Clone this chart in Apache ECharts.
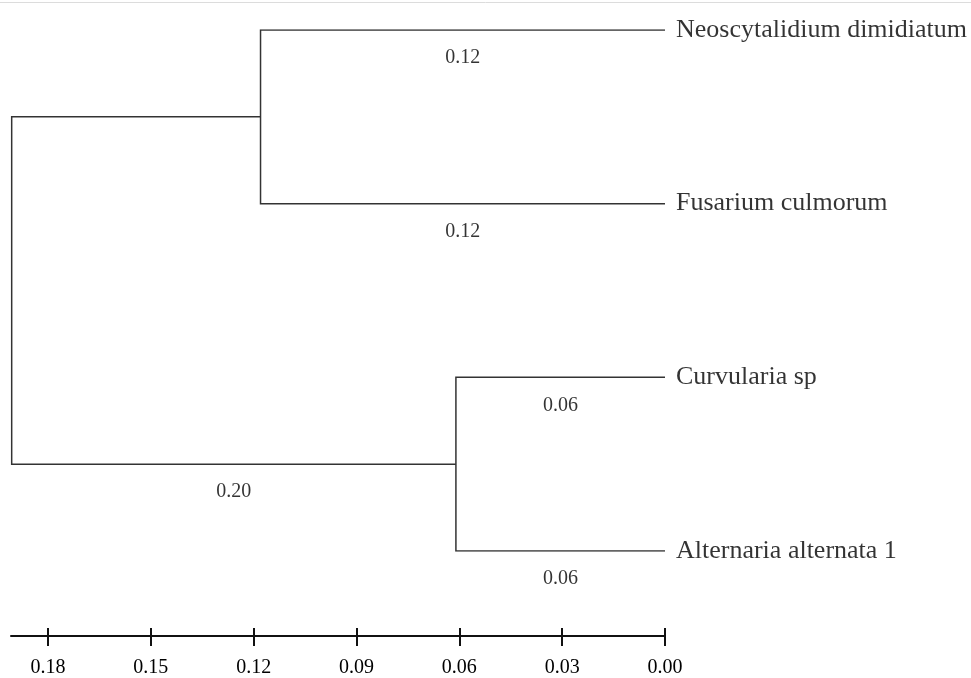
<!DOCTYPE html>
<html>
<head>
<meta charset="utf-8">
<script src="https://cdn.jsdelivr.net/npm/echarts@6/dist/echarts.min.js"></script>
<style>
html,body{margin:0;padding:0;background:#fff;}
#chart{width:971px;height:678px;}
</style>
</head>
<body>
<div id="chart"></div>
<script>
// Leaves (top to bottom) and their rows
const leafNames = ['Neoscytalidium dimidiatum', 'Fusarium culmorum', 'Curvularia sp', 'Alternaria alternata 1'];
const leafRows = [0, 1, 2, 3];
// Merges: [childA, childB, height]; indices >= 4 refer to earlier merges
const mergeLeft = [0, 2, 4];
const mergeRight = [1, 3, 5];
const mergeHeights = [0.118, 0.061, 0.1906];
// Branch length labels: by node index (leaves 0-3, clusters 4-5)
const branchLabelNodes = [0, 1, 2, 3, 5];
const branchLabels = ['0.12', '0.12', '0.06', '0.06', '0.20'];
// Axis ticks
const tickValues = [0, 0.03, 0.06, 0.09, 0.12, 0.15, 0.18];
const axisMax = 0.1908;

// node positions
const nodeX = leafRows.map(() => 0);
const nodeY = leafRows.slice();
const parentOf = {};
mergeHeights.forEach((h, i) => {
  const a = mergeLeft[i], b = mergeRight[i];
  nodeX.push(h);
  nodeY.push((nodeY[a] + nodeY[b]) / 2);
  parentOf[a] = leafNames.length + i;
  parentOf[b] = leafNames.length + i;
});

const paths = mergeHeights.map((h, i) => {
  const a = mergeLeft[i], b = mergeRight[i];
  return {coords: [[nodeX[a], nodeY[a]], [h, nodeY[a]], [h, nodeY[b]], [nodeX[b], nodeY[b]]]};
});

const branchLabelData = branchLabelNodes.map((n, i) => {
  const p = parentOf[n];
  return {value: [(nodeX[n] + nodeX[p]) / 2, nodeY[n]], label: {formatter: branchLabels[i]}};
});

const leafData = leafNames.map((nm, i) => ({value: [0, leafRows[i]], name: nm}));

const fontFam = '"Liberation Serif", "Times New Roman", serif';

const gridBox = {left: 11, right: 306, top: 30, bottom: 125, containLabel: false};

const baseX = {
  type: 'value', inverse: true, min: 0, max: axisMax,
  position: 'bottom', offset: 85,
  splitLine: {show: false}
};

const chart = echarts.init(document.getElementById('chart'), null, {renderer: 'canvas'});
chart.setOption({
  backgroundColor: '#fff',
  animation: false,
  grid: [Object.assign({}, gridBox), Object.assign({}, gridBox)],
  xAxis: [
    Object.assign({}, baseX, {
      gridIndex: 0,
      axisLine: {show: true, onZero: false, lineStyle: {color: '#111', width: 2}},
      axisTick: {show: true, length: 10, customValues: tickValues, lineStyle: {color: '#111', width: 2}},
      axisLabel: {show: true, customValues: tickValues, margin: 22,
        formatter: v => v.toFixed(2), color: '#000', fontSize: 20, fontFamily: fontFam}
    }),
    Object.assign({}, baseX, {
      gridIndex: 1,
      axisLine: {show: false, onZero: false},
      axisTick: {show: true, inside: true, length: 10, customValues: tickValues, lineStyle: {color: '#111', width: 2}},
      axisLabel: {show: false}
    })
  ],
  yAxis: [
    {gridIndex: 0, type: 'value', inverse: true, min: 0, max: 3, show: false},
    {gridIndex: 1, type: 'value', inverse: true, min: 0, max: 3, show: false}
  ],
  graphic: [{
    type: 'line', shape: {x1: 0, y1: 2.5, x2: 971, y2: 2.5},
    style: {stroke: '#dcdcdc', lineWidth: 1}, silent: true
  }],
  series: [
    {
      type: 'lines', coordinateSystem: 'cartesian2d', polyline: true,
      xAxisIndex: 0, yAxisIndex: 0, silent: true,
      lineStyle: {color: '#333', width: 1.5, opacity: 1},
      data: paths
    },
    {
      type: 'scatter', xAxisIndex: 0, yAxisIndex: 0, symbolSize: 0, silent: true,
      label: {show: true, position: 'right', distance: 11, formatter: p => p.name,
        color: '#000', fontSize: 26, fontFamily: fontFam},
      data: leafData
    },
    {
      type: 'scatter', xAxisIndex: 0, yAxisIndex: 0, symbolSize: 0, silent: true,
      label: {show: true, position: 'bottom', distance: 18,
        color: '#000', fontSize: 20, fontFamily: fontFam},
      data: branchLabelData
    }
  ]
});
</script>
</body>
</html>
